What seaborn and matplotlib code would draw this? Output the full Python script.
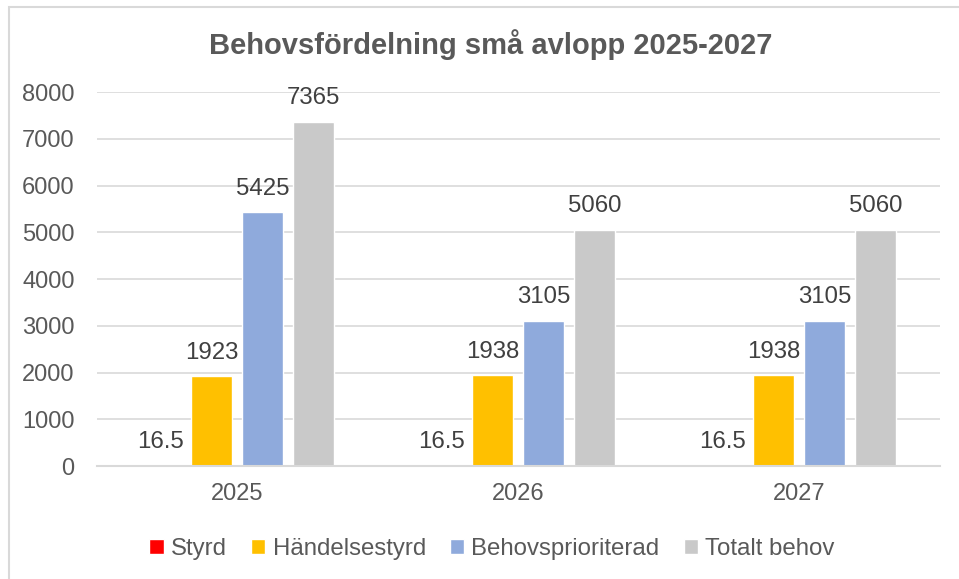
import numpy as np
import pandas as pd
import matplotlib
matplotlib.use("Agg")
import matplotlib.pyplot as plt
import seaborn as sns
from matplotlib.patches import Rectangle

# ---------------------------------------------------------------------------
# Data
# ---------------------------------------------------------------------------
years = ["2025", "2026", "2027"]
series = ["Styrd", "Händelsestyrd", "Behovsprioriterad", "Totalt behov"]
styrd = [16.5, 16.5, 16.5]
handelsestyrd = [1923, 1938, 1938]
behovsprioriterad = [5425, 3105, 3105]
totalt_behov = [7365, 5060, 5060]
colors = ["#FF0000", "#FFC000", "#8FAADC", "#C9C9C9"]

rows = []
for name, vals in zip(series, [styrd, handelsestyrd, behovsprioriterad, totalt_behov]):
    for yr, v in zip(years, vals):
        rows.append({"year": yr, "serie": name, "value": v})
df = pd.DataFrame(rows)

# ---------------------------------------------------------------------------
# Plot
# ---------------------------------------------------------------------------
sns.set_style("white")
plt.rcParams["font.family"] = ["Liberation Sans", "DejaVu Sans"]
txt = "#595959"

fig = plt.figure(figsize=(9.59, 5.79), dpi=100)
ax = fig.add_axes([0.101, 0.195, 0.879, 0.646])

sns.barplot(data=df, x="year", y="value", hue="serie", hue_order=series,
            order=years, palette=colors, width=0.726, gap=0.196,
            saturation=1, ax=ax, legend=True)

for cont in ax.containers:
    ax.bar_label(cont, labels=[f"{v:g}" for v in cont.datavalues],
                 padding=9, fontsize=17.3, color="#404040")

ax.set_ylim(0, 8000)
ax.set_xlim(-0.5, 2.5)
ax.set_yticks(np.arange(0, 8001, 1000))
ax.yaxis.grid(True, color="#D9D9D9", linewidth=1.2)
ax.set_axisbelow(True)
for s in ["top", "right", "left"]:
    ax.spines[s].set_visible(False)
ax.spines["bottom"].set_color("#D9D9D9")
ax.spines["bottom"].set_linewidth(1.5)
ax.tick_params(axis="both", length=0, labelsize=17, colors=txt)
ax.tick_params(axis="y", pad=16)
ax.tick_params(axis="x", pad=12)
ax.set_xlabel("")
ax.set_ylabel("")

fig.suptitle("Behovsfördelning små avlopp 2025-2027", x=0.512, y=0.95,
             fontsize=21, fontweight="bold", color=txt)

handles, labels = ax.get_legend_handles_labels()
ax.legend(handles, labels, loc="center", bbox_to_anchor=(0.513, 0.052),
          bbox_transform=fig.transFigure, ncol=4, frameon=False,
          fontsize=17.3, labelcolor=txt, handlelength=0.6, handleheight=0.6,
          handletextpad=0.3, columnspacing=1.0)

# chart border
fig.patches.append(Rectangle((0.009, -0.05), 1.1, 1.038, transform=fig.transFigure,
                             fill=False, edgecolor="#D9D9D9", linewidth=1.5))

fig.savefig("out.png", dpi=100)
